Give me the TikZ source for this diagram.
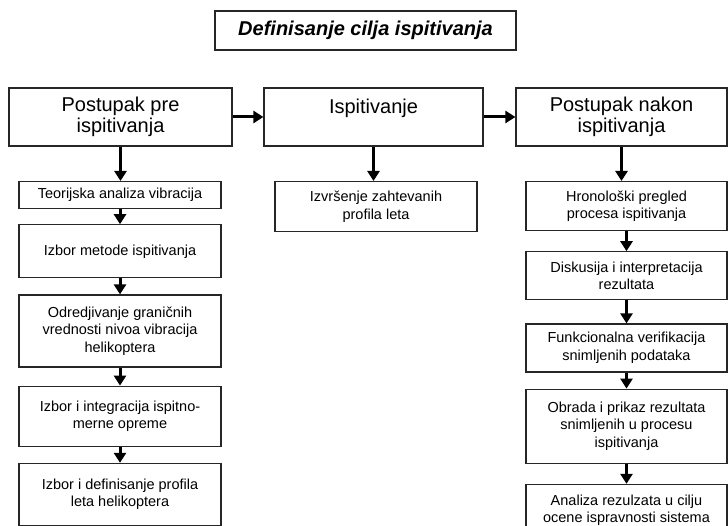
\documentclass[tikz,border=0pt]{standalone}
\usepackage{fontspec}
\setmainfont{Liberation Sans}
\usetikzlibrary{positioning,arrows.meta}

\begin{document}
\begin{tikzpicture}[
    x=1pt, y=-1pt,
    every node/.style={inner sep=0pt, align=center},
    frame/.style={draw=black!85, line width=1.2pt, fill=white},
    titlebox/.style={frame, minimum width=301pt, minimum height=39pt, font=\fontsize{20}{22}\selectfont\bfseries\itshape},
    mainbox/.style={frame, minimum height=58pt, font=\fontsize{20}{21.5}\selectfont},
    smallbox/.style={frame, minimum width=202pt, font=\fontsize{14.5}{17.5}\selectfont},
    arr/.style={-{Triangle[length=10pt,width=12pt]}, line width=3pt, draw=black}
]
    \useasboundingbox (0,0) rectangle (728,526);
    \clip (0,0) rectangle (728,526);

    \node[titlebox] (goal) at (365.5,30.5) {Definisanje cilja ispitivanja};

    % Main phases
    \node[mainbox, minimum width=223pt] (pre) at (120.5,117) {Postupak pre\\ispitivanja};
    \node[mainbox, minimum width=219pt] (test) at (373.5,117) {Ispitivanje\\\phantom{I}};
    \node[mainbox, minimum width=211pt] (post) at (621.5,117) {Postupak nakon\\ispitivanja};

    % Before the test
    \node[smallbox, anchor=north, minimum height=27pt] (pre1) at (120,181) {Teorijska analiza vibracija};
    \node[smallbox, below=15pt of pre1, minimum height=53pt] (pre2) {Izbor metode ispitivanja};
    \node[smallbox, below=16pt of pre2, minimum height=72pt] (pre3) {Odredjivanje graničnih\\vrednosti nivoa vibracija\\helikoptera};
    \node[smallbox, below=18pt of pre3, minimum height=60pt] (pre4) {Izbor i integracija ispitno-\\merne opreme};
    \node[smallbox, below=16pt of pre4, minimum height=62pt] (pre5) {Izbor i definisanje profila\\leta helikoptera};

    % Test
    \node[smallbox, anchor=north, minimum height=50pt] (test1) at (376,181) {Izvršenje zahtevanih\\profila leta};

    % After the test
    \node[smallbox, anchor=north, minimum height=49pt, minimum width=201pt] (post1) at (626.5,181) {Hronološki pregled\\procesa ispitivanja};
    \node[smallbox, below=20pt of post1, minimum height=48pt, minimum width=201pt] (post2) {Diskusija i interpretacija\\rezultata};
    \node[smallbox, below=23pt of post2, minimum height=48pt, minimum width=201pt] (post3) {Funkcionalna verifikacija\\snimljenih podataka};
    \node[smallbox, below=16pt of post3, minimum height=74pt, minimum width=201pt] (post4) {Obrada i prikaz rezultata\\snimljenih u procesu\\ispitivanja};
    \node[smallbox, below=20pt of post4, minimum height=52pt, minimum width=201pt] (post5) {Analiza rezulzata u cilju\\ocene ispravnosti sistema};

    % Connections
    \draw[arr] (pre) -- (test);
    \draw[arr] (test) -- (post);
    \draw[arr] (pre.south) -- (pre.south |- pre1.north);
    \draw[arr] (test.south) -- (test.south |- test1.north);
    \draw[arr] (post.south) -- (post.south |- post1.north);
    \draw[arr] (pre1) -- (pre2);
    \draw[arr] (pre2) -- (pre3);
    \draw[arr] (pre3) -- (pre4);
    \draw[arr] (pre4) -- (pre5);
    \draw[arr] (post1) -- (post2);
    \draw[arr] (post2) -- (post3);
    \draw[arr] (post3) -- (post4);
    \draw[arr] (post4) -- (post5);
\end{tikzpicture}
\end{document}
